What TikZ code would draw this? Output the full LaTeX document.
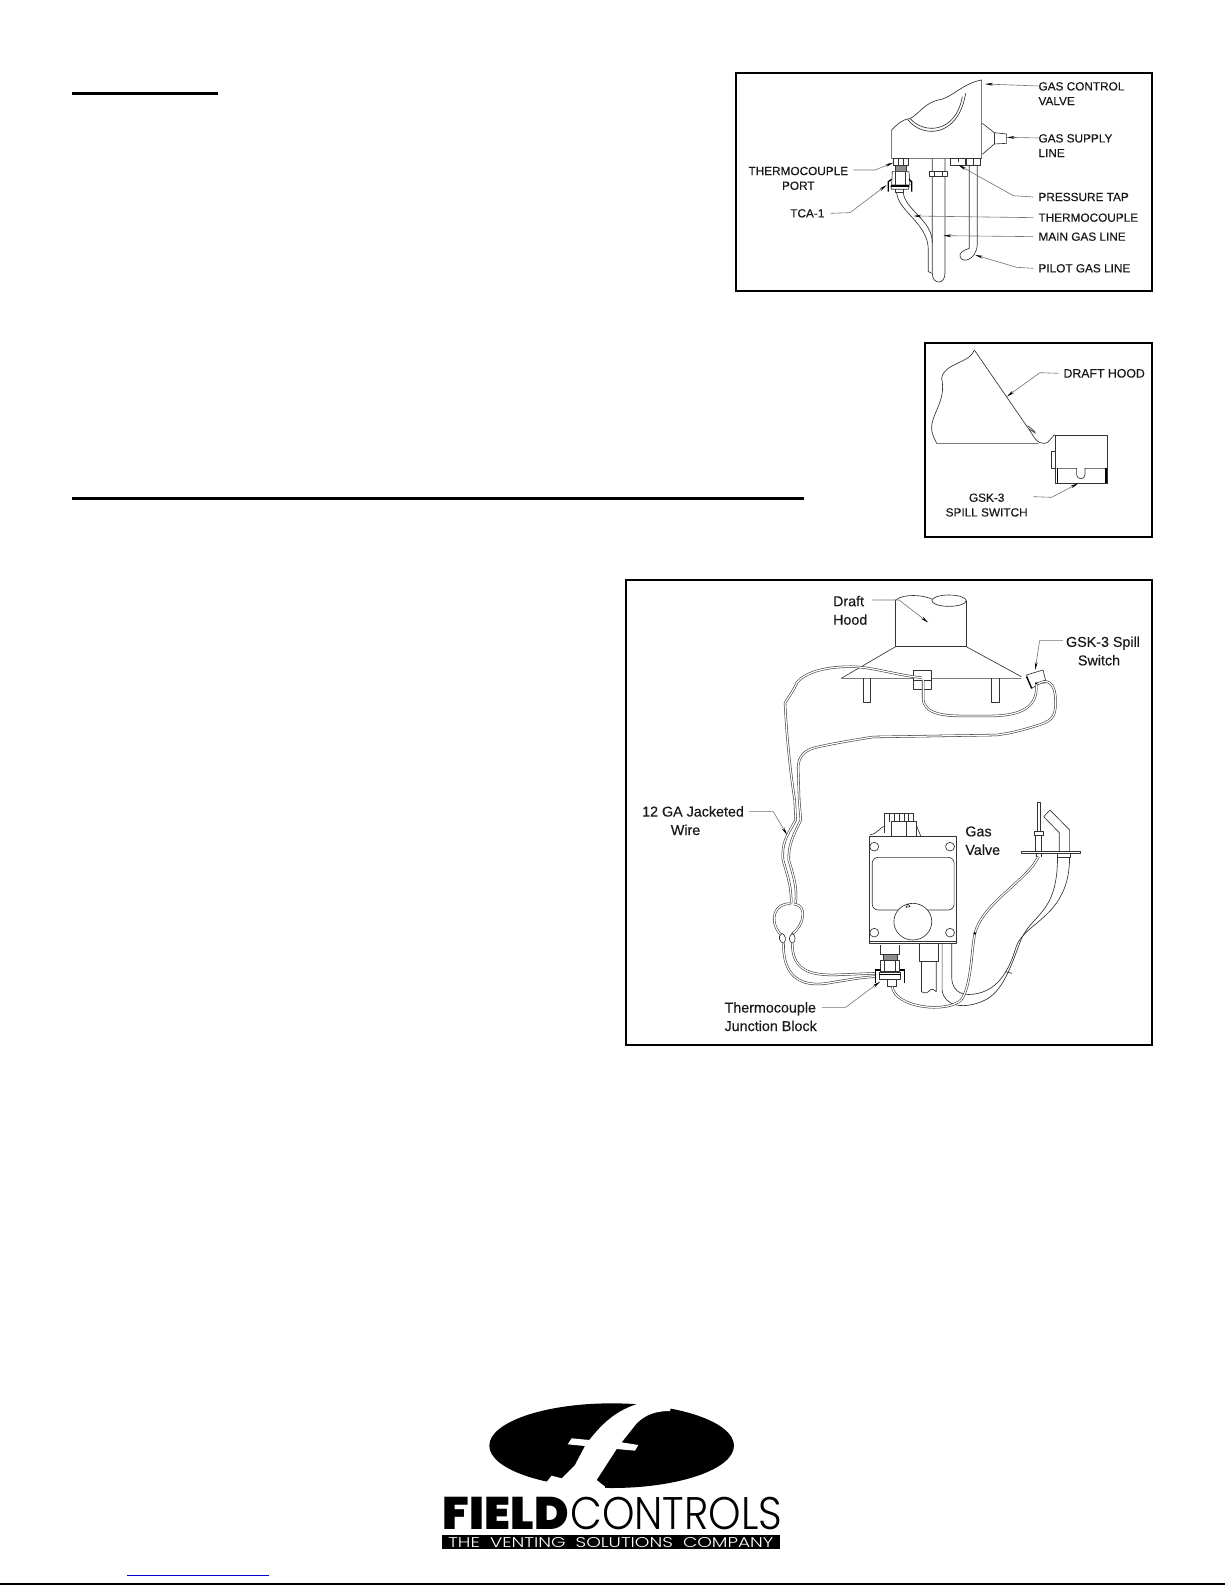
\documentclass[tikz,border=0pt]{standalone}
\usepackage{fontspec}
\usepackage{graphicx}
\setmainfont{Liberation Sans}[FakeBold=0.3]
\newfontfamily\logoheavy{Poppins Black}
\newfontfamily\logolight{Poppins Light}
\usetikzlibrary{arrows.meta}
\tikzset{
  panel/.style={draw=black,line width=2pt},
  rulebar/.style={draw=black,line width=3pt},
  part/.style={draw=black!80,line width=.65pt,line join=round},
  partfill/.style={part,fill=white},
  heavy/.style={draw=black,line width=1.3pt},
  wire/.style={draw=black!80,line width=.55pt,double=white,double distance=1.25pt},
  leader/.style={draw=black!55,line width=.6pt,-{Stealth[length=8pt,width=2.8pt,color=black]}},
  lblcaps/.style={inner sep=0pt,text=black!90,font=\fontsize{11.8}{14.7}\selectfont},
  lblhood/.style={inner sep=0pt,text=black!90,font=\fontsize{12.3}{14}\selectfont},
  lblmix/.style={inner sep=0pt,text=black!90,font=\fontsize{14.3}{18.5}\selectfont},
}
\begin{document}
\begin{tikzpicture}[x=1pt,y=-1pt]
\useasboundingbox (0,0) rectangle (1225,1585);
\fill[white] (0,0) rectangle (1225,1585);
% page rules
\coordinate (r1a) at (72,93); \coordinate (r1b) at (218,93);
\coordinate (r2a) at (72,498); \coordinate (r2b) at (804,498);
\draw[rulebar] (r1a) -- (r1b);
\draw[rulebar] (r2a) -- (r2b);
\coordinate (bla) at (0,1584); \coordinate (blb) at (1225,1584);
\draw[draw=black,line width=1.2pt] (bla) -- (blb);
\coordinate (lnka) at (127,1575); \coordinate (lnkb) at (269,1575);
\draw[draw={rgb,255:red,0;green,0;blue,204},line width=1pt] (lnka) -- (lnkb);

%%%% FIGURE 1
\begin{scope}[shift={(725,60)},x=.3333pt,y=-.3333pt]
\draw[panel] (32,38) rectangle (1280,692);
% body
\draw[part] (500,296) -- (500,210) .. controls (515,195) and (530,178) .. (555,176)
  .. controls (585,160) and (600,125) .. (650,118) .. controls (690,105) and (715,70) .. (770,60)
  -- (770,296) -- cycle;
\draw[part] (548,178) .. controls (590,235) and (700,235) .. (722,100);
\draw[part] (556,176) .. controls (595,222) and (692,222) .. (712,110);
% supply
\draw[part] (772,190) -- (808,218) -- (845,222) -- (845,250) -- (808,252) -- (772,283);
\draw[part] (808,218) -- (808,252);
% port
\draw[part] (505,296) rectangle (550,315);
\draw[part] (520,296) -- (520,315) (535,296) -- (535,315);
\draw[part,fill=black!45] (510,315) rectangle (545,335);
\draw[partfill] (502,335) -- (552,335) -- (555,375) -- (500,375) -- cycle;
\draw[part] (512,335) -- (512,375) (542,335) -- (542,375);
\draw[heavy] (490,395) -- (490,365) -- (500,358);
\draw[heavy] (560,395) -- (560,365) -- (552,358);
\draw[heavy] (497,378) -- (553,378);
\draw[part] (497,378) -- (500,388) -- (550,388) -- (553,378);
\draw[part] (512,388) -- (512,398) -- (535,398) -- (535,388);
% thermocouple tube
\draw[part] (515,398) .. controls (520,455) and (610,490) .. (610,570) -- (610,635) -- (620,640);
\draw[part] (535,398) .. controls (540,450) and (622,480) .. (622,548);
% main gas
\draw[part] (622,296) -- (622,640) .. controls (622,675) and (660,675) .. (660,640) -- (660,296);
\draw[partfill] (612,335) rectangle (668,348);
\draw[part] (627,335) -- (627,348) (653,335) -- (653,348);
% tap
\draw[part] (675,296) rectangle (720,315);
\draw[part] (700,296) -- (700,305);
% pilot
\draw[part] (725,296) rectangle (765,315);
\draw[part] (745,296) -- (745,315);
\draw[part] (733,315) -- (733,565) .. controls (715,570) and (700,580) .. (706,592)
   .. controls (715,610) and (752,600) .. (757,555) -- (757,315);
% leader tips
\coordinate (t1as) at (920,78); \coordinate (t1a) at (780,72);
\coordinate (t1bs) at (920,234); \coordinate (t1b) at (845,232);
\coordinate (t1cm) at (865,407); \coordinate (t1c) at (700,315);
\coordinate (t1d) at (565,468);
\coordinate (t1e) at (655,527);
\coordinate (t1fm) at (875,622); \coordinate (t1f) at (750,585);
\coordinate (t1gm) at (450,330); \coordinate (t1g) at (505,308);
\coordinate (t1hm) at (375,458); \coordinate (t1h) at (485,375);
% labels
\node[lblcaps,anchor=north west,align=left] (gcv) at (940,66) {GAS CONTROL\\VALVE};
\node[lblcaps,anchor=north west,align=left] (gsl) at (940,222) {GAS SUPPLY\\LINE};
\node[lblcaps,anchor=west] (ptap) at (940,411) {PRESSURE TAP};
\node[lblcaps,anchor=west] (tcpl) at (940,473) {THERMOCOUPLE};
\node[lblcaps,anchor=west] (mgl) at (940,530) {MAIN GAS LINE};
\node[lblcaps,anchor=west] (pgl) at (940,625) {PILOT GAS LINE};
\node[lblcaps,anchor=north,align=center] (tport) at (220,320) {THERMOCOUPLE\\PORT};
\node[lblcaps] (tca) at (247,460) {TCA-1};
\draw[leader] (gcv.west |- t1as) -- (t1a);
\draw[leader] (gsl.west |- t1bs) -- (t1b);
\draw[leader] ([xshift=-5pt]ptap.west) -- (t1cm) -- (t1c);
\draw[leader] ([xshift=-5pt]tcpl.west) -- (t1d);
\draw[leader] ([xshift=-5pt]mgl.west) -- (t1e);
\draw[leader] ([xshift=-5pt]pgl.west) -- (t1fm) -- (t1f);
\draw[leader] ([xshift=5pt]tport.east |- t1gm) -- (t1gm) -- (t1g);
\draw[leader] ([xshift=6pt]tca.east) -- (t1hm) -- (t1h);
\end{scope}

%%%% FIGURE 2
\begin{scope}[shift={(915,335)},x=.3333pt,y=-.3333pt]
\draw[panel] (30,25) rectangle (711,605);
\draw[part] (178,45) .. controls (165,85) and (85,85) .. (80,130)
  .. controls (95,200) and (45,240) .. (50,285) .. controls (52,300) and (60,315) .. (65,325) -- (370,325);
\draw[part] (178,45) -- (350,295) .. controls (365,325) and (385,330) .. (398,322) -- (418,300) -- (425,302);
\draw[part] (338,272) -- (360,290) (342,282) -- (362,295);
\draw[part] (422,300) rectangle (578,445);
\draw[part] (408,350) rectangle (422,400);
\draw[part] (425,400) -- (485,400) -- (485,420) .. controls (487,435) and (508,435) .. (510,420) -- (510,400) -- (575,400);
\draw[heavy] (428,400) -- (428,445);
\draw[heavy] (573,400) -- (573,445);
\coordinate (t2am) at (375,113); \coordinate (t2a) at (275,185);
\coordinate (t2bs) at (355,485); \coordinate (t2bm) at (410,487); \coordinate (t2b) at (490,445);
\node[lblhood,anchor=west] (dhd) at (445,115) {DRAFT HOOD};
\node[lblcaps,anchor=north,align=center] (gsw) at (215,475) {GSK-3\\SPILL SWITCH};
\draw[leader] ([xshift=-5pt]dhd.west) -- (t2am) -- (t2a);
\draw[leader] (t2bs) -- (t2bm) -- (t2b);
\end{scope}

%%%% FIGURE 3 upper
\begin{scope}[shift={(620,575)},x=.3445pt,y=-.3333pt]
\draw[part] (800,75) .. controls (825,55) and (880,60) .. (905,72);
\draw[part] (955,77) ellipse (50 and 17);
\draw[part] (800,75) -- (800,215) -- (1005,215) -- (1005,77);
\draw[part] (800,215) -- (642,310) -- (1165,310);
\draw[part] (1005,215) -- (1165,305);
\draw[part] (707,310) -- (707,382) -- (727,382) -- (727,310);
\draw[part] (1078,310) -- (1078,382) -- (1102,382) -- (1102,310);
\draw[partfill] (852,285) rectangle (905,343);
\draw[part] (852,315) -- (905,315);
% spill switch
\draw[partfill] (1180,300) -- (1228,285) -- (1235,315) -- (1195,340) -- cycle;
\draw[heavy] (1180,305) -- (1195,340);
\draw[heavy] (1205,325) -- (1240,322);
% wires
\draw[wire] (875,308) .. controls (800,300) and (730,275) .. (670,275)
  .. controls (600,275) and (540,290) .. (514,322)
  .. controls (505,345) and (490,365) .. (479,384)
  .. controls (482,450) and (490,560) .. (507,675);
\draw[wire] (880,315) -- (880,370) .. controls (880,420) and (950,423) .. (1000,423) -- (1070,423)
  .. controls (1150,423) and (1215,405) .. (1208,328);
\draw[wire] (1212,327) .. controls (1235,312) and (1265,315) .. (1264,380)
  .. controls (1266,430) and (1250,440) .. (1200,455)
  .. controls (1160,468) and (1130,475) .. (1094,480) -- (734,486)
  .. controls (680,495) and (620,505) .. (570,517)
  .. controls (535,525) and (518,545) .. (517,576) -- (520,675);
\coordinate (t3am) at (810,75); \coordinate (t3a) at (895,143);
\coordinate (t3bm) at (1218,197); \coordinate (t3b) at (1205,285);
\node[lblmix,align=left,anchor=west] (ldraft) at (618,106) {Draft\\Hood};
\node[lblmix,align=center] (lgsk) at (1402,228) {GSK-3 Spill\\Switch\hspace*{8pt}};
\draw[leader] ([xshift=5pt]ldraft.east |- t3am) -- (t3am) -- (t3a);
\draw[leader] ([xshift=-3pt]lgsk.west |- t3bm) -- (t3bm) -- (t3b);
\end{scope}

%%%% FIGURE 3 lower
\begin{scope}[shift={(620,800)},x=.3445pt,y=-.3333pt]
\draw[panel] (18,-661) rectangle (1545,735);
% jacket wires
\draw[wire] (507,-1) -- (510,60) .. controls (480,115) and (470,130) .. (473,180)
  .. controls (490,240) and (497,260) .. (497,310);
\draw[wire] (520,-1) -- (525,60) .. controls (490,130) and (490,150) .. (490,180)
  .. controls (510,250) and (513,265) .. (510,310);
% loop
\draw[wire] (497,312) .. controls (450,305) and (430,360) .. (465,402);
\draw[wire] (505,312) .. controls (545,315) and (535,375) .. (500,402);
\draw[part] (470,400) .. controls (455,410) and (465,428) .. (475,430) .. controls (485,420) and (480,405) .. (470,400);
\draw[part] (500,400) .. controls (488,410) and (490,425) .. (500,430) .. controls (512,425) and (510,405) .. (500,400);
\draw[wire] (475,430) .. controls (472,500) and (500,565) .. (600,550) .. controls (660,540) and (700,532) .. (740,530);
\draw[wire] (500,430) .. controls (500,510) and (550,525) .. (620,525) -- (740,520);
% valve
\draw[part] (725,110) rectangle (975,430);
\draw[part] (725,425) -- (975,425);
\foreach \cx/\cy in {738/140,958/140,738/398,958/398}{\draw[part] (\cx,\cy) circle [radius=13];}
\draw[part,rounded corners=6pt] (732,172) rectangle (970,330);
\draw[partfill] (850,365) circle [radius=55];
\draw[part] (830,322) -- (836,312) -- (842,320) -- cycle;
\draw[part] (768,40) -- (850,40);
\foreach \cx in {768,782,796,810,824,838,850}{\draw[part] (\cx,40) -- (\cx,65);}
\draw[part] (787,65) -- (860,65) -- (860,108) -- (787,108) -- cycle;
\draw[part] (830,65) -- (830,108);
\draw[part] (768,65) -- (768,100);
\draw[part] (725,105) .. controls (750,100) and (755,80) .. (770,78);
\draw[part] (860,75) -- (873,108);
% port and block
\draw[part] (755,435) -- (755,463) -- (812,463) -- (812,435);
\draw[part,fill=black!45] (765,463) rectangle (805,480);
\draw[partfill] (757,480) rectangle (812,515);
\draw[part] (768,480) -- (768,515) (800,480) -- (800,515);
\draw[heavy] (742,548) -- (742,510) -- (757,510);
\draw[heavy] (825,548) -- (825,510) -- (812,510);
\draw[partfill] (752,518) rectangle (815,538);
\draw[heavy] (752,524) -- (815,524);
\draw[part] (775,538) -- (775,558) -- (803,558) -- (803,538);
% main line
\draw[part] (870,430) rectangle (925,485);
\draw[part] (875,485) -- (875,575) .. controls (885,582) and (895,578) .. (900,570) .. controls (905,565) and (915,570) .. (918,575) -- (918,485);
% pilot tubes
\draw[part] (935,430) -- (935,570) .. controls (940,620) and (1000,630) .. (1060,600)
  .. controls (1110,575) and (1135,500) .. (1160,430) .. controls (1190,340) and (1270,350) .. (1270,172);
\draw[part] (963,430) -- (963,535) .. controls (965,580) and (1000,590) .. (1040,580)
  .. controls (1100,565) and (1130,510) .. (1150,440) .. controls (1175,365) and (1305,350) .. (1305,172);
\draw[part] (1118,515) -- (1138,520);
% thermocouple
\draw[wire] (790,560) .. controls (800,625) and (950,640) .. (990,600)
  .. controls (1020,560) and (1020,450) .. (1030,400)
  .. controls (1050,320) and (1150,260) .. (1200,195) -- (1215,170);
\fill[black] (1030,400) circle [radius=4];
% pilot burner
\draw[part] (1165,153) rectangle (1335,160);
\draw[part] (1210,8) -- (1220,8) -- (1220,95) -- (1210,95) -- cycle;
\draw[part] (1202,95) rectangle (1228,105);
\draw[part] (1205,105) -- (1205,153) (1222,105) -- (1222,153);
\draw[part] (1208,160) -- (1208,172) (1222,160) -- (1222,172);
\draw[part] (1230,50) -- (1248,30) -- (1305,90) -- (1305,153);
\draw[part] (1230,50) -- (1275,98) -- (1275,153);
\draw[part] (1268,160) rectangle (1308,172);
% labels
\coordinate (t3cm) at (445,35); \coordinate (t3c) at (485,105);
\coordinate (t3dm) at (655,622); \coordinate (t3d) at (755,545);
\node[lblmix,align=center] (ljack) at (212,62) {12 GA Jacketed\\Wire\hspace*{15pt}};
\node[lblmix,align=left,anchor=west] (lgas) at (1002,122) {Gas\\Valve};
\node[lblmix,align=left,anchor=west] (ljunc) at (303,650) {Thermocouple\\Junction Block};
\draw[leader] ([xshift=5pt]ljack.east |- t3cm) -- (t3cm) -- (t3c);
\draw[leader] ([xshift=5pt]ljunc.east |- t3dm) -- (t3dm) -- (t3d);
\end{scope}

%%%% LOGO
\begin{scope}[shift={(420,1385)},x=.3333pt,y=-.3333pt]
\fill[black] (575,182) ellipse (367 and 127);
\fill[white] (680,48) .. controls (600,70) and (560,100) .. (508,165)
  -- (455,160) -- (443,178) -- (495,183) -- (465,240) -- (425,280) -- (395,272) -- (378,293)
  -- (378,330) -- (555,330) -- (555,305) -- (530,285) -- (590,192) -- (645,197) -- (655,180) -- (605,172)
  -- (650,115) .. controls (680,85) and (715,78) .. (750,78) -- (755,60) -- cycle;
\node[inner sep=0pt,anchor=north west] (lfield) at (68,335) {\resizebox{125.7pt}{32.3pt}{\logoheavy FIELD}};
\node[inner sep=0pt,anchor=north west] (lctrl) at (450,335) {\resizebox{212pt}{32.3pt}{\logolight CONTROLS}};
\node[fill=black,text=white,inner sep=0pt,minimum width=337.3pt,minimum height=14pt,anchor=north west] (lband) at (66,450) {\resizebox{325pt}{10pt}{\logolight THE\ \ VENTING\ \ SOLUTIONS\ \ COMPANY}};
\end{scope}
\end{tikzpicture}
\end{document}
